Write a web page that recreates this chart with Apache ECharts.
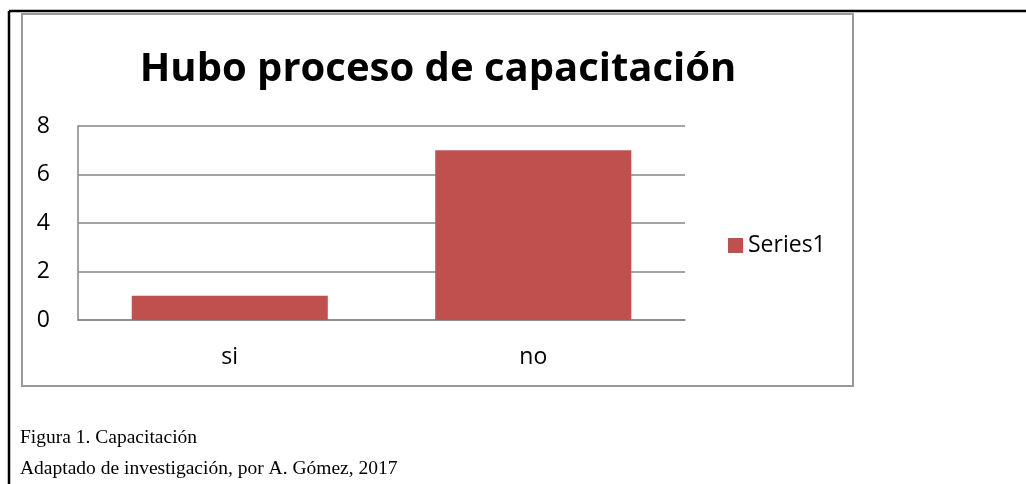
<!DOCTYPE html>
<html><head><meta charset="utf-8">
<script src="https://cdn.jsdelivr.net/npm/echarts@6/dist/echarts.min.js"></script>
<style>html,body{margin:0;padding:0;background:#fff}#c{width:1026px;height:484px}</style>
</head><body><div id="c"></div>
<script>
const categories = ['si', 'no'];
const series1 = [1, 7];
const yTicks = [0, 2, 4, 6, 8];
const titleText = 'Hubo proceso de capacitación';
const seriesName = 'Series1';
const caption1 = 'Figura 1. Capacitación';
const caption2 = 'Adaptado de investigación, por A. Gómez, 2017';

const chart = echarts.init(document.getElementById('c'));
const font = '"Open Sans", "Noto Sans", sans-serif';
chart.setOption({
  animation: false,
  title: {
    text: titleText, left: 438, top: 50, textAlign: 'center', padding: 0,
    textStyle: { fontFamily: font, fontWeight: 'bold', fontSize: 40, color: '#000' }
  },
  legend: {
    left: 728, top: 234, padding: 0, icon: 'rect', itemWidth: 15, itemHeight: 15, itemGap: 6,
    textStyle: { fontFamily: font, fontSize: 23, color: '#000', padding: [0,0,0,0] },
    data: [seriesName]
  },
  grid: { left: 78, right: 341, top: 126, bottom: 164, containLabel: false },
  xAxis: {
    type: 'category', data: categories,
    axisLine: { lineStyle: { color: '#868686', width: 1.5 } },
    axisTick: { show: false },
    axisLabel: { margin: 26, fontFamily: font, fontSize: 23, color: '#000' }
  },
  yAxis: {
    type: 'value', min: yTicks[0], max: yTicks[yTicks.length-1], interval: 2,
    axisLine: { show: true, lineStyle: { color: '#868686', width: 1.5 } },
    axisTick: { show: false },
    splitLine: { lineStyle: { color: '#868686', width: 1.5 } },
    axisLabel: { margin: 28, fontFamily: font, fontSize: 23, color: '#000' }
  },
  series: [{
    name: seriesName, type: 'bar', data: series1, barWidth: '64.6%',
    itemStyle: { color: '#C0504D' }
  }],
  graphic: [
    { type: 'line', shape: { x1: 9, y1: 11, x2: 1026, y2: 11 }, style: { stroke: '#000', lineWidth: 2.5 } },
    { type: 'line', shape: { x1: 9, y1: 11, x2: 9, y2: 484 }, style: { stroke: '#000', lineWidth: 2.5 } },
    { type: 'rect', shape: { x: 22, y: 14, width: 831, height: 372 }, style: { fill: 'none', stroke: '#999', lineWidth: 2 } },
    { type: 'text', left: 20, top: 428, style: { text: caption1, font: '19.5px "Liberation Serif", "Times New Roman", serif', fill: '#000' } },
    { type: 'text', left: 20, top: 459, style: { text: caption2, font: '19.5px "Liberation Serif", "Times New Roman", serif', fill: '#000' } }
  ]
});
</script></body></html>
